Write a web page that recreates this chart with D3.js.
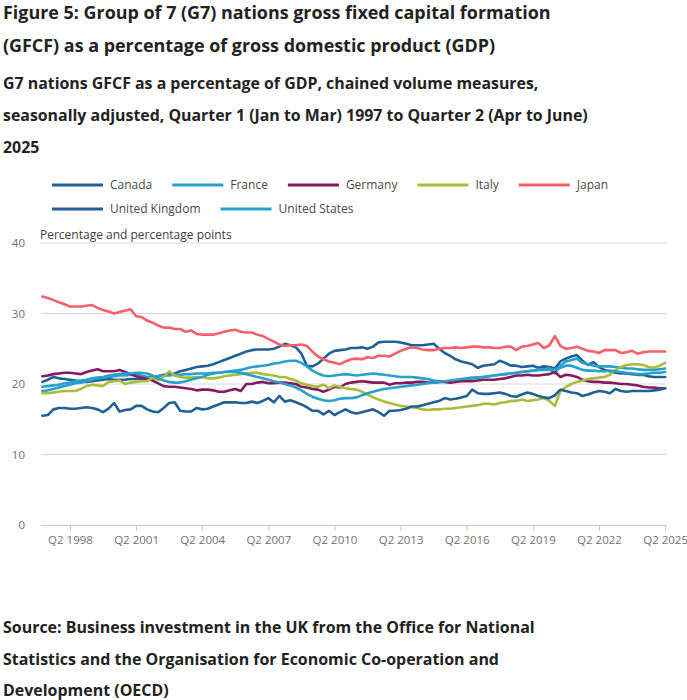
<!DOCTYPE html>
<html><head><meta charset="utf-8">
<script src="https://cdn.jsdelivr.net/npm/d3@7/dist/d3.min.js"></script>
<style>
body{margin:0;background:#fff}
svg{display:block;font-family:"Open Sans",sans-serif}
</style>
</head><body>
<svg id="chart" width="687" height="700"></svg>
<script>
// ---------- DATA ----------
const titleLines = ["Figure 5: Group of 7 (G7) nations gross fixed capital formation",
                    "(GFCF) as a percentage of gross domestic product (GDP)"];
const subtitleLines = ["G7 nations GFCF as a percentage of GDP, chained volume measures,",
                       "seasonally adjusted, Quarter 1 (Jan to Mar) 1997 to Quarter 2 (Apr to June)",
                       "2025"];
const sourceLines = ["Source: Business investment in the UK from the Office for National",
                     "Statistics and the Organisation for Economic Co-operation and",
                     "Development (OECD)"];
const yAxisLabel = "Percentage and percentage points";
const countries = ["Canada","France","Germany","Italy","Japan","United Kingdom","United States"];
const colours = ["#206095","#27a0cc","#871a5b","#a8bd3a","#f66068","#206095","#27a0cc"];
const yTicks = [0,10,20,30,40];
const xTickLabels = ["Q2 1998","Q2 2001","Q2 2004","Q2 2007","Q2 2010","Q2 2013","Q2 2016","Q2 2019","Q2 2022","Q2 2025"];

// quarters Q1 1997 .. Q2 2025
const quarters = [];
for (let y = 1997; y <= 2025; y++) for (let q = 1; q <= 4; q++) { if (y === 2025 && q > 2) break; quarters.push("Q" + q + " " + y); }

const canada = [20.3,20.6,21.0,20.8,20.7,20.6,20.5,20.3,20.3,20.4,
20.5,20.6,20.7,20.6,20.6,20.6,20.7,20.7,20.7,20.8,
20.9,21.1,21.3,21.4,21.5,21.8,22.0,22.2,22.4,22.5,
22.6,22.8,23.1,23.4,23.7,24.0,24.3,24.6,24.8,24.9,
24.9,24.9,25.0,25.3,25.7,25.5,25.2,24.3,22.6,22.5,
22.9,23.6,24.3,24.7,24.8,24.9,25.1,25.1,25.2,25.0,
25.3,25.9,26.0,26.0,26.0,25.9,25.7,25.5,25.5,25.5,
25.6,25.7,25.0,24.4,24.0,23.5,23.2,23.0,22.8,22.3,
22.6,22.7,22.8,23.3,23.0,22.6,22.6,22.4,22.5,22.6,
22.3,22.5,22.4,22.2,23.2,23.6,23.9,24.1,23.3,22.7,
23.1,22.4,22.0,21.8,21.6,21.5,21.5,21.4,21.3,21.3,
21.1,21.0,21.0,21.0];
const france = [19.0,19.1,19.3,19.5,19.7,19.9,20.1,20.2,20.4,20.6,
20.8,20.9,21.0,21.1,21.2,21.2,21.3,21.3,21.2,21.0,
21.0,21.1,21.2,21.2,21.3,21.3,21.4,21.4,21.5,21.5,
21.5,21.6,21.6,21.7,21.8,21.9,22.0,22.2,22.4,22.5,
22.6,22.7,22.9,23.0,23.2,23.3,23.3,23.0,22.5,21.9,
21.5,21.2,21.1,21.2,21.3,21.4,21.3,21.2,21.3,21.4,
21.5,21.4,21.3,21.2,21.1,21.0,21.0,21.0,20.9,20.8,
20.7,20.5,20.4,20.4,20.4,20.5,20.6,20.7,20.8,20.9,
21.0,21.1,21.2,21.3,21.4,21.5,21.6,21.7,21.8,21.9,
22.0,22.1,22.2,21.5,22.6,23.2,23.4,23.6,23.0,22.8,
22.6,22.5,22.5,22.5,22.4,22.3,22.2,22.2,22.1,22.0,
22.0,22.0,22.1,22.2];
const germany = [21.1,21.2,21.4,21.5,21.6,21.6,21.5,21.4,21.7,21.9,
22.1,21.8,21.8,21.8,22.0,21.7,21.4,21.1,20.9,20.7,
20.5,20.1,19.7,19.6,19.6,19.5,19.4,19.3,19.1,19.2,
19.2,19.1,18.9,18.9,19.1,19.3,19.0,20.0,20.0,20.2,
20.3,20.1,20.1,20.2,20.2,20.1,20.0,19.6,19.5,19.3,
19.2,18.9,19.2,19.6,19.5,20.0,20.2,20.3,20.4,20.3,
20.2,20.2,20.2,19.9,20.1,20.1,20.2,20.2,20.3,20.3,
20.2,20.2,20.3,20.3,20.2,20.3,20.4,20.4,20.4,20.5,
20.6,20.6,20.6,20.7,20.8,21.0,21.2,21.2,21.3,21.2,
21.2,21.3,21.4,21.7,21.0,21.3,21.2,21.0,20.6,20.4,
20.3,20.3,20.2,20.2,20.1,20.0,20.0,19.9,19.8,19.6,
19.5,19.5,19.4,19.4];
const italy = [18.7,18.7,18.8,18.9,19.0,19.0,19.0,19.3,19.7,19.9,
19.8,19.7,20.3,20.4,20.5,20.0,20.2,20.3,20.4,20.4,
20.9,20.6,21.0,21.8,21.2,21.0,20.9,20.9,21.0,21.0,
20.8,20.8,20.9,21.1,21.2,21.3,21.4,21.5,21.6,21.6,
21.4,21.3,21.2,21.0,21.0,20.7,20.5,20.1,19.9,19.7,
19.6,19.9,19.4,19.8,19.6,19.4,19.3,19.2,18.9,18.5,
18.1,17.8,17.5,17.3,17.1,16.9,16.8,16.7,16.6,16.4,
16.3,16.4,16.4,16.5,16.5,16.6,16.7,16.8,16.9,17.0,
17.2,17.2,17.1,17.3,17.4,17.6,17.6,17.8,17.6,17.7,
17.8,18.0,17.6,16.9,19.0,19.6,20.0,20.3,20.5,20.7,
20.8,20.9,21.0,21.3,22.0,22.4,22.7,22.8,22.8,22.7,
22.4,22.3,22.6,23.0];
const japan = [32.4,32.2,31.9,31.6,31.3,31.0,31.0,31.0,31.1,31.2,
30.8,30.5,30.3,30.0,30.2,30.4,30.6,29.6,29.5,29.0,
28.7,28.3,28.0,28.0,27.8,27.8,27.4,27.6,27.1,27.0,
27.0,27.0,27.2,27.4,27.6,27.7,27.4,27.3,27.3,27.0,
26.8,26.4,26.0,25.6,25.4,25.5,25.5,25.6,25.4,24.6,
23.9,23.5,23.2,23.0,22.8,23.2,23.5,23.6,23.5,23.8,
23.7,24.0,24.0,23.9,24.3,24.7,25.0,25.2,25.1,24.9,
24.8,24.8,25.0,25.1,25.1,25.2,25.1,25.2,25.3,25.3,
25.2,25.2,25.1,25.1,25.3,25.3,24.8,25.3,25.4,25.6,
25.8,25.1,25.5,26.8,25.4,25.0,25.1,25.3,25.0,24.7,
24.6,24.4,24.8,24.8,24.8,24.4,24.5,24.7,24.3,24.5,
24.6,24.6,24.6,24.6];
const unitedKingdom = [15.5,15.6,16.4,16.6,16.6,16.5,16.5,16.6,16.7,16.6,
16.4,16.0,16.5,17.3,16.1,16.3,16.4,16.9,16.9,16.4,
16.1,16.0,16.6,17.3,17.4,16.2,16.1,16.1,16.6,16.4,
16.5,16.8,17.1,17.4,17.4,17.4,17.3,17.3,17.5,17.3,
17.6,18.0,17.4,18.3,17.5,17.7,17.4,17.1,16.7,16.2,
16.2,15.7,16.2,15.6,16.0,16.4,16.0,15.8,16.0,16.2,
16.4,16.0,15.5,16.2,16.2,16.3,16.5,16.8,16.8,17.0,
17.2,17.4,17.6,18.0,17.8,17.9,18.1,18.3,19.2,18.7,
18.6,18.6,18.7,18.8,18.6,18.3,18.2,18.5,18.8,18.6,
18.3,18.1,18.0,18.4,19.2,19.0,18.8,18.7,18.3,18.5,
18.8,19.0,18.9,18.7,19.3,19.0,18.9,19.0,19.0,19.0,
19.0,19.1,19.2,19.4];
const unitedStates = [19.6,19.7,19.8,19.9,20.1,20.2,20.4,20.5,20.6,20.8,
20.9,21.0,21.2,21.3,21.4,21.5,21.5,21.6,21.6,21.5,
21.2,20.8,20.5,20.3,20.2,20.2,20.4,20.6,20.8,21.0,
21.3,21.5,21.6,21.7,21.7,21.7,21.6,21.4,21.2,21.0,
20.8,20.6,20.4,20.2,20.0,19.8,19.5,19.1,18.6,18.2,
17.9,17.7,17.6,17.7,17.9,18.0,18.0,18.1,18.4,18.7,
18.9,19.1,19.3,19.4,19.5,19.6,19.7,19.8,19.9,20.0,
20.1,20.2,20.3,20.4,20.5,20.6,20.7,20.8,20.9,20.9,
21.0,21.1,21.2,21.3,21.4,21.5,21.6,21.7,21.8,21.9,
22.0,22.0,22.0,22.1,22.3,22.6,22.6,22.3,22.0,21.9,
21.9,21.8,21.8,21.9,21.8,21.7,21.6,21.5,21.4,21.4,
21.5,21.6,21.6,21.7];
const seriesValues = [canada, france, germany, italy, japan, unitedKingdom, unitedStates];

// ---------- DRAW ----------
const svg = d3.select("#chart");
const textCol = "#222222";

function block(lines, x, y0, lh, size, weight, targetW) {
  const g = svg.append("g");
  const ts = lines.map((t, i) => g.append("text").attr("x", x).attr("y", y0 + i * lh)
    .attr("font-size", size).attr("font-weight", weight).attr("fill", textCol).text(t));
  if (targetW) {
    const w = ts[0].node().getComputedTextLength();
    const s = size * targetW / w;
    ts.forEach(t => t.attr("font-size", s));
  }
  return g;
}
block(titleLines, 3, 19, 33, 19, 700, 548);
block(subtitleLines, 3, 89, 32, 16, 700, 536);
block(sourceLines, 3, 633, 31.5, 15.5, 700, 532);

const x = d3.scalePoint().domain(quarters).range([42.4, 665.1]);
const y = d3.scaleLinear().domain([0, 40]).range([525, 243]);
const gridX0 = 41, gridX1 = 667;

// grid
svg.append("g").selectAll("line").data(yTicks.filter(d => d > 0)).join("line")
  .attr("x1", gridX0).attr("x2", gridX1).attr("y1", d => y(d)).attr("y2", d => y(d))
  .attr("stroke", "#dadada").attr("stroke-width", 1);
svg.append("g").selectAll("text").data(yTicks).join("text")
  .attr("x", 25).attr("y", d => y(d)).attr("dy", "0.35em").attr("text-anchor", "end")
  .attr("font-size", 11.5).attr("fill", "#707070").text(d => d);

svg.append("text").attr("x", 40).attr("y", 239).attr("font-size", 12).attr("fill", "#414042").text(yAxisLabel);

// x axis
const xTickValues = xTickLabels.slice();
const xAxis = d3.axisBottom(x).tickValues(xTickValues).tickSize(6).tickPadding(5).tickSizeOuter(0);
const gx = svg.append("g").attr("transform", `translate(0,${y(0)})`).call(xAxis);
gx.select(".domain").attr("d", `M${gridX0},0.5H${gridX1}`).attr("stroke", "#bfc8d3");
gx.selectAll(".tick line").attr("stroke", "#bfc8d3");
gx.selectAll(".tick text").attr("font-size", 11.5).attr("fill", "#707070").attr("font-family", '"Open Sans",sans-serif');

// lines
const line = d3.line().x((d, i) => x(quarters[i])).y(d => y(d)).curve(d3.curveLinear);
svg.append("g").selectAll("path").data(seriesValues).join("path")
  .attr("d", d => line(d)).attr("fill", "none")
  .attr("stroke", (d, i) => colours[i]).attr("stroke-width", 2.6)
  .attr("stroke-linejoin", "round").attr("stroke-linecap", "round");

// legend
const leg = svg.append("g");
let lx = 52, ly = 185;
countries.forEach((c, i) => {
  const g = leg.append("g");
  const t = g.append("text").attr("x", 58).attr("y", 0).attr("dy", "0.35em")
    .attr("font-size", 12).attr("fill", "#4a4a4a").text(c);
  const w = 58 + t.node().getComputedTextLength();
  if (lx + w > 660) { lx = 52; ly += 24; }
  g.attr("transform", `translate(${lx},${ly})`);
  g.insert("line", "text").attr("x1", 0).attr("x2", 51).attr("y1", 0).attr("y2", 0)
    .attr("stroke", colours[i]).attr("stroke-width", 3);
  lx += w + 20;
});
</script>
</body></html>
